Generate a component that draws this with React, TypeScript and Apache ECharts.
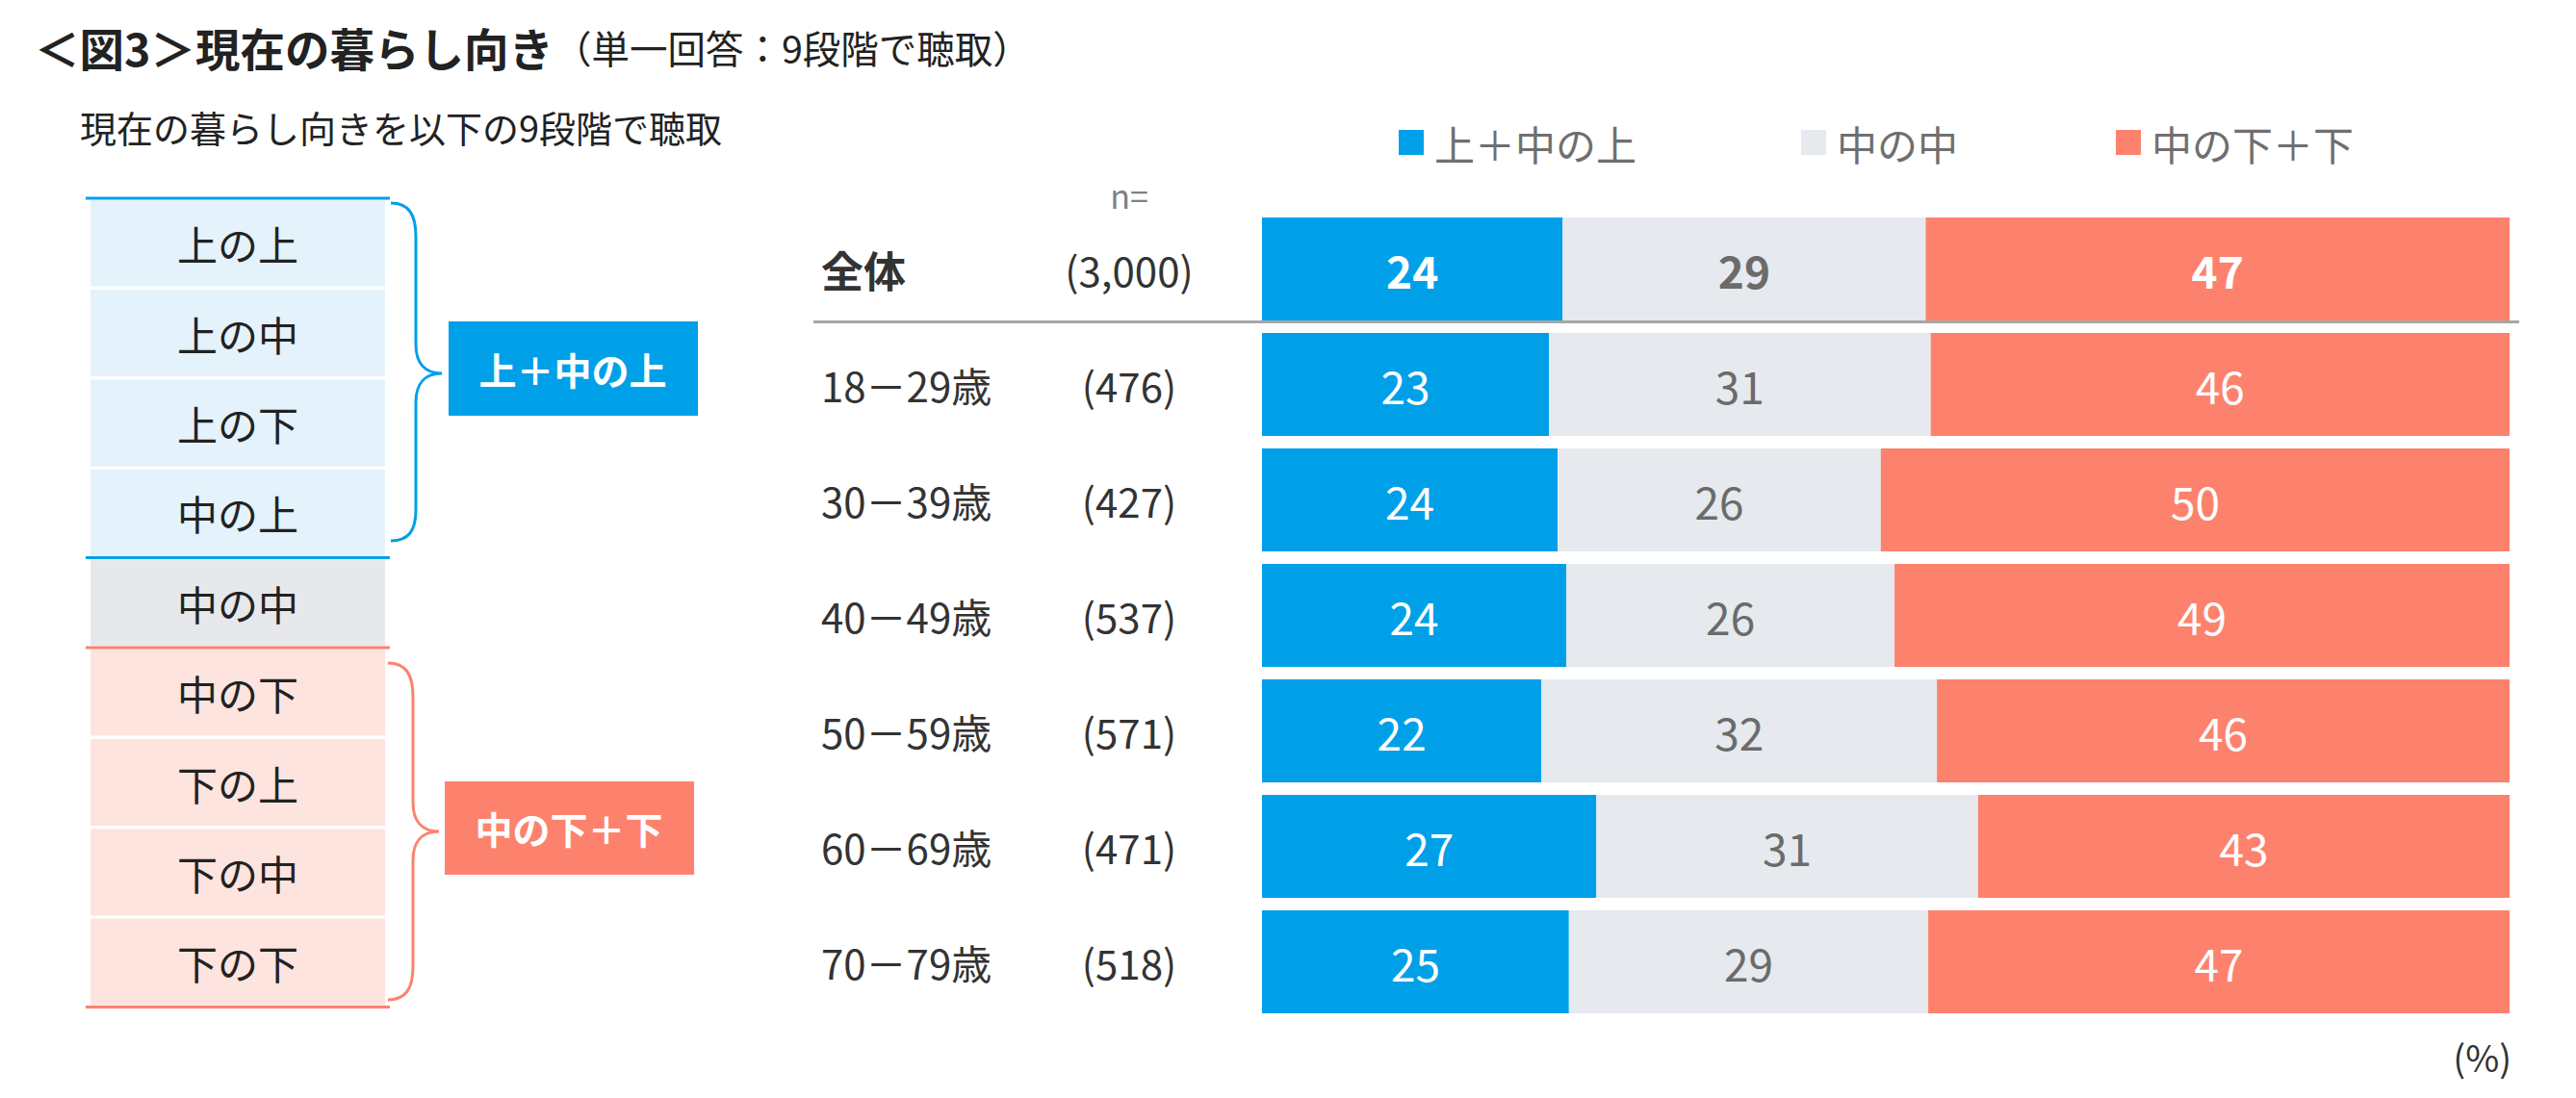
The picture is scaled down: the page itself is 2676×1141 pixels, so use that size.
import React, { useEffect, useRef } from "react";
import * as echarts from "echarts";

// ---------- data ----------
const categories = ["全体", "18－29歳", "30－39歳", "40－49歳", "50－59歳", "60－69歳", "70－79歳"];
const sampleSizes = [3000, 476, 427, 537, 571, 471, 518];
const seriesNames = ["上＋中の上", "中の中", "中の下＋下"];
const upperShare = [24.1, 23.0, 23.7, 24.4, 22.4, 26.8, 24.6];
const middleShare = [29.1, 30.6, 25.9, 26.3, 31.7, 30.6, 28.8];
const lowerShare = [46.8, 46.4, 50.4, 49.3, 45.9, 42.6, 46.6];
const scaleItems = ["上の上", "上の中", "上の下", "中の上", "中の中", "中の下", "下の上", "下の中", "下の下"];
const scaleGroup = [0, 0, 0, 0, 1, 2, 2, 2, 2];

const FONT = '"Noto Sans CJK JP", "Noto Sans", sans-serif';
const BLUE = "#00A0E9";
const GRAY = "#E6E9EE";
const SALMON = "#FD826D";
const ROW_FILL = ["#E3F2FB", "#E6E8EC", "#FDE4DF"];

export default function App() {
  const ref = useRef<HTMLDivElement>(null);

  useEffect(() => {
    document.body.style.margin = "0";
    if (!ref.current) return;

    const braceBlue =
      "M406,211 C424,211 432,222 432,246 L432,358 C432,378 442,388 459,388 C442,388 432,398 432,418 L432,530 C432,552 424,562 406,562";
    const braceSalmon =
      "M403,689 C421,689 429,700 429,724 L429,834 C429,854 439,864 456,864 C439,864 429,874 429,894 L429,1004 C429,1028 421,1039 403,1039";
    echarts.graphic.registerShape("braceBlue", echarts.graphic.extendPath(braceBlue, {}));
    echarts.graphic.registerShape("braceSalmon", echarts.graphic.extendPath(braceSalmon, {}));

    const chart = echarts.init(ref.current, null, { renderer: "svg" });

    const pitch = 93.4;
    const top0 = 206;
    const graphics: any[] = [];
    scaleItems.forEach((name, i) => {
      const y = top0 + 1.6 + i * pitch;
      graphics.push({
        type: "rect",
        shape: { x: 94, y, width: 306, height: pitch - 3.4 },
        style: { fill: ROW_FILL[scaleGroup[i]] },
      });
      graphics.push({
        type: "text",
        x: 247,
        y: top0 + (i + 0.5) * pitch,
        style: {
          text: name,
          fontSize: 42,
          fontFamily: FONT,
          fill: "#222222",
          textAlign: "center",
          textVerticalAlign: "middle",
        },
      });
    });
    const hLine = (y: number, color: string) => ({
      type: "line",
      shape: { x1: 89, y1: y, x2: 405, y2: y },
      style: { stroke: color, lineWidth: 3 },
    });
    graphics.push(hLine(top0, BLUE), hLine(top0 + 4 * pitch, BLUE), hLine(top0 + 5 * pitch, SALMON), hLine(top0 + 9 * pitch, SALMON));
    graphics.push({ type: "braceBlue", x: 0, y: 0, style: { stroke: BLUE, fill: null, lineWidth: 3 } });
    graphics.push({ type: "braceSalmon", x: 0, y: 0, style: { stroke: SALMON, fill: null, lineWidth: 3 } });
    graphics.push({ type: "rect", shape: { x: 466, y: 334, width: 259, height: 98 }, style: { fill: BLUE } });
    graphics.push({
      type: "text",
      x: 595,
      y: 383,
      style: { text: seriesNames[0], fontSize: 39, fontWeight: "bold", fontFamily: FONT, fill: "#ffffff", textAlign: "center", textVerticalAlign: "middle" },
    });
    graphics.push({ type: "rect", shape: { x: 462, y: 812, width: 259, height: 97 }, style: { fill: SALMON } });
    graphics.push({
      type: "text",
      x: 591,
      y: 860,
      style: { text: seriesNames[2], fontSize: 39, fontWeight: "bold", fontFamily: FONT, fill: "#ffffff", textAlign: "center", textVerticalAlign: "middle" },
    });
    // subtitle line
    graphics.push({
      type: "text",
      x: 83,
      y: 131,
      style: { text: "現在の暮らし向きを以下の9段階で聴取", fontSize: 38, fontFamily: FONT, fill: "#222222", textAlign: "left", textVerticalAlign: "middle" },
    });
    // n=
    graphics.push({
      type: "text",
      x: 1173,
      y: 202,
      style: { text: "n=", fontSize: 34, fontFamily: FONT, fill: "#808080", textAlign: "center", textVerticalAlign: "middle" },
    });
    // (%)
    graphics.push({
      type: "text",
      x: 2609,
      y: 1097,
      style: { text: "(%)", fontSize: 38, fontFamily: FONT, fill: "#333333", textAlign: "right", textVerticalAlign: "middle" },
    });
    // separator under 全体
    graphics.push({
      type: "line",
      shape: { x1: 845, y1: 334.5, x2: 2617, y2: 334.5 },
      style: { stroke: "#A6A6A6", lineWidth: 3 },
      z: 10,
    });

    const makeData = (arr: number[]) =>
      arr.map((v, i) => (i === 0 ? { value: v, label: { fontWeight: "bold" } } : v));

    const labelColors = ["#ffffff", "#6B6B6B", "#ffffff"];
    const colors = [BLUE, GRAY, SALMON];
    const shares = [upperShare, middleShare, lowerShare];

    const legendLefts = [1453, 1871, 2198];

    chart.setOption({
      animation: false,
      title: {
        text: "{b|＜図3＞現在の暮らし向き}{n|（単一回答：9段階で聴取）}",
        left: 36,
        top: 23,
        padding: 0,
        textStyle: {
          rich: {
            b: { fontSize: 46.5, fontWeight: "bold", fontFamily: FONT, color: "#222222", lineHeight: 50 },
            n: { fontSize: 39.5, fontWeight: "normal", fontFamily: FONT, color: "#222222", lineHeight: 50 },
          },
        },
      },
      legend: seriesNames.map((name, i) => ({
        data: [name],
        left: legendLefts[i],
        top: 126,
        padding: 0,
        icon: "rect",
        itemWidth: 26,
        itemHeight: 26,
        selectedMode: false,
        textStyle: { fontSize: 42, fontFamily: FONT, color: "#6F6F6F", lineHeight: 44, padding: [0, 0, 0, 6] },
      })),
      graphic: graphics,
      grid: { left: 1311, right: 69, top: 219.5, height: 840, containLabel: false },
      xAxis: { type: "value", min: 0, max: 100, show: false },
      yAxis: {
        type: "category",
        data: categories,
        inverse: true,
        axisLine: { show: false },
        axisTick: { show: false },
        axisLabel: {
          align: "left",
          margin: 458,
          formatter: (value: string) => {
            const idx = categories.indexOf(value);
            const n = "(" + sampleSizes[idx].toLocaleString("en-US") + ")";
            return idx === 0 ? `{ab|${value}}{b|${n}}` : `{a|${value}}{b|${n}}`;
          },
          rich: {
            a: { fontSize: 42, fontFamily: FONT, color: "#333333", width: 270 },
            ab: { fontSize: 44, fontFamily: FONT, fontWeight: "bold", color: "#333333", width: 270 },
            b: { fontSize: 42, fontFamily: FONT, color: "#333333", width: 100, align: "center" },
          },
        },
      },
      series: seriesNames.map((name, s) => ({
        name,
        type: "bar",
        stack: "total",
        barWidth: 107,
        itemStyle: { color: colors[s] },
        label: {
          show: true,
          position: "inside",
          fontSize: 46,
          fontFamily: FONT,
          color: labelColors[s],
          formatter: (p: any) => String(Math.round(p.value)),
        },
        data: makeData(shares[s]),
      })),
    });

    return () => chart.dispose();
  }, []);

  return <div ref={ref} style={{ width: 2676, height: 1141 }} />;
}
